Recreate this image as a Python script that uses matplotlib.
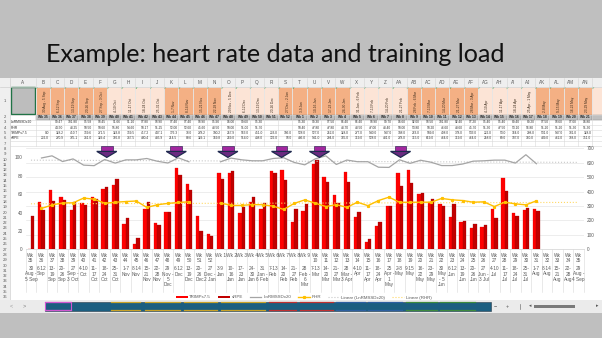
import numpy as np
import matplotlib
matplotlib.use("Agg")
import matplotlib.pyplot as plt
from matplotlib.patches import Rectangle, Polygon, Patch
from matplotlib.lines import Line2D
from matplotlib.transforms import blended_transform_factory

plt.rcParams['font.family'] = ['Liberation Sans', 'DejaVu Sans']

nan = np.nan

# ---- data ----
title = "Example: heart rate data and training load"
week_nums = list(range(35, 53)) + list(range(1, 36))
date_labels = [
    "30\nAug -\n5 Sep", "6-12\nSep", "13-\n19\nSep", "20-\n26\nSep", "27\nSep -\n3 Oct",
    "4-10\nOct", "11-\n17\nOct", "18-\n24\nOct", "25-\n31\nOct", "1-7\nNov",
    "8-14\nNov", "15-\n21\nNov", "22-\n28\nNov", "29\nNov -\n5\nDec", "6-12\nDec",
    "13-\n19\nDec", "20-\n26\nDec", "27\nDec -\n2 Jan", "3-9\nJan", "10-\n16\nJan",
    "17-\n23\nJan", "24-\n30\nJan", "31\nJan -\n6 Feb", "7-13\nFeb", "14-\n20\nFeb",
    "21-\n27\nFeb", "28\nFeb -\n6\nMar", "7-13\nMar", "14-\n20\nMar", "21-\n27\nMar",
    "28\nMar -\n3 Apr", "4-10\nApr", "11-\n17\nApr", "18-\n24\nApr", "25\nApr -\n1\nMay",
    "2-8\nMay", "9-15\nMay", "16-\n22\nMay", "23-\n29\nMay", "30\nMay\n- 5\nJun",
    "6-12\nJun", "13-\n19\nJun", "20-\n26\nJun", "27\nJun -\n3 Jul", "4-10\nJul",
    "11-\n17\nJul", "18-\n24\nJul", "25-\n31\nJul", "1-7\nAug", "8-14\nAug",
    "15-\n21\nAug", "22-\n28\nAug", "29\nAug -\n4 Sep",
]
trimps = [0.0, 328.2, 410.7, 359.6, 271.5, 323.8, 359.5, 417.2, 447.1, 176.3,
          38.0, 278.2, 180.2, 257.9, 563, 451, 233, 106, 528, 527,
          252, 328, 277, 540, 547, 188, 263, 589, 498, 378,
          533, 222, 53, 164, 298, 531, 547, 381, 328, 314,
          226, 189, 150, 157, 279, 496, 254, 270, 279, nan, nan, nan, nan]
srpe = [232.0, 270.9, 335.1, 341.0, 329.4, 306.8, 347.5, 430.4, 485.9, 214.5,
        80.6, 329.1, 169.8, 259, 514, 408, 126, 93, 486, 541,
        294, 365, 319, 528, 481, 278, 315, 619, 464, 319,
        464, 258, 69, 187, 300, 439, 462, 388, 351, 298,
        314, 198, 177, 168, 215, 402, 229, 286, 263, nan, nan, nan, nan]
lnrmssd = [nan, 99.47, 101.8, 95.58, 98.45, 91.66, 91.1, 97.8, 93.9, 97.4,
           97.4, 98.9, 95.9, 94.0, 99.6, 95.3, nan, nan, 95.3, 99.3,
           97.5, 96.4, 96.4, 98.9, 99.7, 94.6, 92.0, 98.5, 101.8, 92.4,
           97.2, 95.4, 95.4, 89.4, 89.2, 97.5, 93.6, 97.0, 94.8, 91.2,
           91.2, 92.9, 96.0, 96.4, 97.1, 97.1, 93.9, 103.0, 93.2, nan, nan, nan, nan]
rhr = [nan, 44.5, 48.25, 50.5, 50.6, 55.8, 54.6, 50.17, 51.25, 52.0,
       52.6, 45.6, 48.5, 50.0, 51.0, 51.7, nan, nan, 50.4, 47.8,
       47.8, 48.7, 48.5, 47.0, 43.4, 50.0, 53.8, 50.2, 46.6, 48.6,
       45.7, 51.3, 47.5, 53.1, 56.8, 51.2, 51.2, 51.3, 51.3, 55.4,
       53.9, 53.1, 51.3, 51.7, 46.6, 51.3, 49.5, 48.4, 52.8, nan, nan, nan, nan]
arrow_weeks = [7.2, 13.8, 18.7, 23.8, 27.4, 35.1]
row_labels = ["LnRMSSDx20", "RHR", "TRIMPs7.5", "sRPE"]
header_fill = "OOOOOLLLLOOOOLLLLOOOOOLLLLOOOOOLLLLOOOOL"

W, H = 602, 338
fig = plt.figure(figsize=(W / 100, H / 100), dpi=100)
fig.patch.set_facecolor('#bfbfbf')

bg = fig.add_axes([0, 0, 1, 1], zorder=0)
bg.set_xlim(0, W)
bg.set_ylim(H, 0)
bg.axis('off')


def rect(axh, x0, y0, x1, y1, **kw):
    axh.add_patch(Rectangle((x0, y0), x1 - x0, y1 - y0, **kw))


def col_name(k):
    s = ""
    k += 1
    while k:
        k, r = divmod(k - 1, 26)
        s = chr(65 + r) + s
    return s


def col_left(c):
    return 10.0 if c == 0 else 35.6 + 14.27 * (c - 1)


def row_top(r):
    return 86.8 if r == 1 else 114.5 + 5.3 * (r - 2)


def row_bot(r):
    return 114.5 if r == 1 else row_top(r) + 5.3


# title
t = bg.text(46.5, 61.5, title, fontsize=20, family=['Lato', 'DejaVu Sans'],
            ha='left', va='baseline', color='#111111')
fig.canvas.draw()
bw = t.get_window_extent().width
t.set_fontsize(20 * 461 / bw)

# ---- spreadsheet ----
rect(bg, 0, 78.3, W, 300, facecolor='white', edgecolor='none')
rect(bg, 0, 78.3, W, 86.8, facecolor='#efefef', edgecolor='none')
rect(bg, 0, 86.8, 10, 300, facecolor='#efefef', edgecolor='none')
bg.plot([0, W], [86.8, 86.8], color='#cfcfcf', lw=0.5)
bg.plot([10, 10], [78.3, 300], color='#cfcfcf', lw=0.5)

ncols = 41
for c in range(ncols):
    x0, x1 = col_left(c), col_left(c + 1)
    if x1 < W:
        bg.text((x0 + x1) / 2, 82.7, col_name(c), fontsize=3.3, ha='center',
                va='center', color='#555555')
    bg.plot([x1, x1], [78.3, 86.8], color='#d4d4d4', lw=0.4)
    bg.plot([x1, x1], [86.8, row_bot(7)], color='#d8d8d8', lw=0.4)

for r in range(1, 37):
    bg.text(5, (row_top(r) + row_bot(r)) / 2, str(r), fontsize=3.0,
            ha='center', va='center', color='#555555')
    if r <= 7:
        bg.plot([10, W], [row_bot(r), row_bot(r)], color='#d8d8d8', lw=0.4)

# A1 selected
rect(bg, 10.5, 87.3, col_left(1) - 0.5, 114.0, facecolor='#bdbdbd',
     edgecolor='#217346', lw=1.0)

for k in range(ncols - 1):
    c = k + 1
    x0, x1 = col_left(c), col_left(c + 1)
    fc = '#f4b084' if header_fill[k] == 'O' else '#fce4d6'
    rect(bg, x0, 86.8, x1, 114.5, facecolor=fc, edgecolor='white', lw=0.4)
    bg.add_patch(Polygon([(x0 + 0.3, 87.1), (x0 + 2.4, 87.1), (x0 + 0.3, 89.2)],
                         closed=True, facecolor='#1e9e3a', edgecolor='none'))
    rect(bg, x0, 114.5, x1, 119.8, facecolor='#bfbfbf', edgecolor='#8c8c8c', lw=0.3)
    if x1 > W:
        continue  # last column is cut by the window edge
    hdr = date_labels[k].replace(" -\n", " - ").replace("-\n", "-").replace("\n", " ")
    bg.text(x0 + 9.5, 112.5, hdr, fontsize=2.3, rotation=90, rotation_mode='anchor',
            ha='left', va='center', color='#3a2a1a')
    bg.text(x0 + 7.1, 117.3, "Wk %d" % week_nums[k], fontsize=2.4, ha='center',
            va='center', color='#222222', weight='bold')
    vals = [lnrmssd[k], rhr[k], trimps[k], srpe[k]]
    for j, v in enumerate(vals):
        if np.isnan(v):
            continue
        txt = "%.2f" % v if j < 2 else "%.1f" % v
        bg.text(x1 - 0.8, (row_top(3 + j) + row_bot(3 + j)) / 2, txt, fontsize=2.3,
                ha='right', va='center', color='#333333')

for j, lab in enumerate(row_labels):
    bg.text(11, (row_top(3 + j) + row_bot(3 + j)) / 2, lab, fontsize=2.4,
            ha='left', va='center', color='#333333')

# ---- chart ----
x = np.arange(len(week_nums))
left_px, right_px = 25.7, 583.8
top_px, base_px = 148.3, 249.3
ax = fig.add_axes([left_px / W, 1 - base_px / H, (right_px - left_px) / W,
                   (base_px - top_px) / H], zorder=1)
ax.patch.set_alpha(0)
ax.bar(x - 0.16, trimps, width=0.32, color='#ff0000', edgecolor='#e00000', lw=0.2)
ax.bar(x + 0.16, srpe, width=0.32, color='#c00000', edgecolor='#a00000', lw=0.2)
ax.set_xlim(-0.5, len(week_nums) - 0.5)
ax.set_ylim(0, 700)
ax.set_yticks(np.arange(0, 701, 100))
ax.yaxis.grid(True, color='#e6e6e6', lw=0.5)
ax.set_axisbelow(True)
ax.set_xticks([])
for s in ax.spines.values():
    s.set_visible(False)
ax.spines['bottom'].set_visible(True)
ax.spines['bottom'].set_color('#d9d9d9')
ax.spines['bottom'].set_linewidth(0.6)

tw = ax.twinx()
tw.set_zorder(2)
tw.patch.set_alpha(0)
ok_g = ~np.isnan(lnrmssd)
ok_y = ~np.isnan(rhr)
fit_g = np.polyfit(x[ok_g], np.array(lnrmssd)[ok_g], 1)
fit_y = np.polyfit(x[ok_y], np.array(rhr)[ok_y], 1)
xt = np.array([0, len(week_nums) - 1])
tw.plot(xt, np.polyval(fit_g, xt), color='#c8c8c8', lw=0.8, ls=':')
tw.plot(xt, np.polyval(fit_y, xt), color='#ffd966', lw=0.8, ls=':')
tw.plot(x, lnrmssd, color='#a5a5a5', lw=0.9)
tw.plot(x, rhr, color='#ffc000', lw=1.0, marker='s', ms=1.3)
tw.set_ylim(0, 110)
tw.set_yticks(np.arange(0, 101, 20))
for s in tw.spines.values():
    s.set_visible(False)

# twinx moves the first axes' ticks to the left, so swap them back
ax.yaxis.tick_right()
tw.yaxis.tick_left()
ax.tick_params(axis='y', which='both', left=False, labelleft=False, right=False,
               labelright=True, length=0, labelsize=3.4, labelcolor='#595959', pad=2.2)
tw.tick_params(axis='y', which='both', right=False, labelright=False, left=False,
               labelleft=True, length=0, labelsize=3.4, labelcolor='#595959', pad=2.2)

fg = fig.add_axes([0, 0, 1, 1], zorder=5)
fg.patch.set_alpha(0)
fg.set_xlim(0, W)
fg.set_ylim(H, 0)
fg.axis('off')

mix = blended_transform_factory(ax.transData, fg.transData)
for i, n in enumerate(week_nums):
    lab = "Wk %d" % n if n < 10 and i > 17 else "Wk\n%d" % n
    fg.text(i, 252.6, lab, transform=mix, fontsize=3.4, ha='center', va='top',
            color='#595959', linespacing=1.05)
    fg.text(i, 266.3, date_labels[i], transform=mix, fontsize=3.4, ha='center',
            va='top', color='#595959', linespacing=1.05)
for i in range(len(week_nums) + 1):
    fg.plot([i - 0.5, i - 0.5], [base_px, 292], transform=mix, color='#d9d9d9', lw=0.4)

# purple markers above the chart
for a in arrow_weeks:
    fg.add_patch(Polygon([(a - 0.55, 146.4), (a + 0.55, 146.4), (a + 0.55, 151.6),
                          (a - 0.55, 151.6)], closed=True, transform=mix,
                         facecolor='#a2279f', edgecolor='#3b2c5c', lw=0.5))
    fg.add_patch(Polygon([(a - 0.95, 151.4), (a + 0.95, 151.4), (a, 157.4)],
                         closed=True, transform=mix, facecolor='#6a2a80',
                         edgecolor='#1f2a4f', lw=0.9))

handles = [Patch(facecolor='#ff0000'), Patch(facecolor='#c00000'),
           Line2D([], [], color='#a5a5a5', lw=0.9),
           Line2D([], [], color='#ffc000', lw=1.0, marker='s', ms=1.3),
           Line2D([], [], color='#c8c8c8', lw=0.8, ls=':'),
           Line2D([], [], color='#ffd966', lw=0.8, ls=':')]
labels = ["TRIMPs7.5", "sRPE", "LnRMSSDx20", "RHR", "Linear (LnRMSSDx20)", "Linear (RHR)"]
leg = ax.legend(handles, labels, loc='upper left', bbox_to_anchor=(176 / W, 1 - 295.5 / H),
                bbox_transform=fig.transFigure, ncol=6, frameon=False, fontsize=3.2,
                handlelength=2.6, handleheight=0.6, columnspacing=1.6,
                handletextpad=0.4, borderpad=0, borderaxespad=0)
for txt in leg.get_texts():
    txt.set_color('#595959')

# ---- sheet tab bar ----
rect(fg, 0, 300, W, 313, facecolor='#ebebeb', edgecolor='none')
fg.text(11, 306, "<", fontsize=4, ha='center', va='center', color='#9a9a9a')
fg.text(24, 306, ">", fontsize=4, ha='center', va='center', color='#7a7a7a')
rect(fg, 45, 302, 491, 310.5, facecolor='#1b5e80', edgecolor='#2a3a48', lw=0.4)
segs = [(45, 71, '#d058d0'), (111, 140, '#c9a227'), (145, 180, '#c9a227'),
        (184, 217, '#c9a227'), (221, 265, '#c9a227'), (269, 296, '#c03030'),
        (300, 333, '#c03030'), (336, 365, '#2c5fa0'), (368, 402, '#2c5fa0'),
        (406, 437, '#3d8a3d'), (440, 475, '#3d8a3d')]
for s0, s1, col in segs:
    fg.plot([s0, s1], [302.2, 302.2], color=col, lw=0.9)
    fg.plot([s0, s1], [310.3, 310.3], color=col, lw=0.9)
rect(fg, 45.3, 302.3, 71, 310.2, facecolor='none', edgecolor='#d058d0', lw=0.8)
fg.text(495, 306, "\u2212", fontsize=4, ha='center', va='center', color='#555555')
fg.text(507, 306, "+", fontsize=4, ha='center', va='center', color='#555555')
fg.plot([520, 520], [303.5, 308.5], color='#777777', lw=0.5)
fg.text(530, 306, "\u25c2", fontsize=3.5, ha='center', va='center', color='#555555')
fg.text(597, 306, "\u25b8", fontsize=3.5, ha='center', va='center', color='#555555')
rect(fg, 534, 304.5, 575, 307.5, facecolor='#7a7a7a', edgecolor='none')

fig.savefig("out.png", dpi=100, facecolor=fig.get_facecolor())
